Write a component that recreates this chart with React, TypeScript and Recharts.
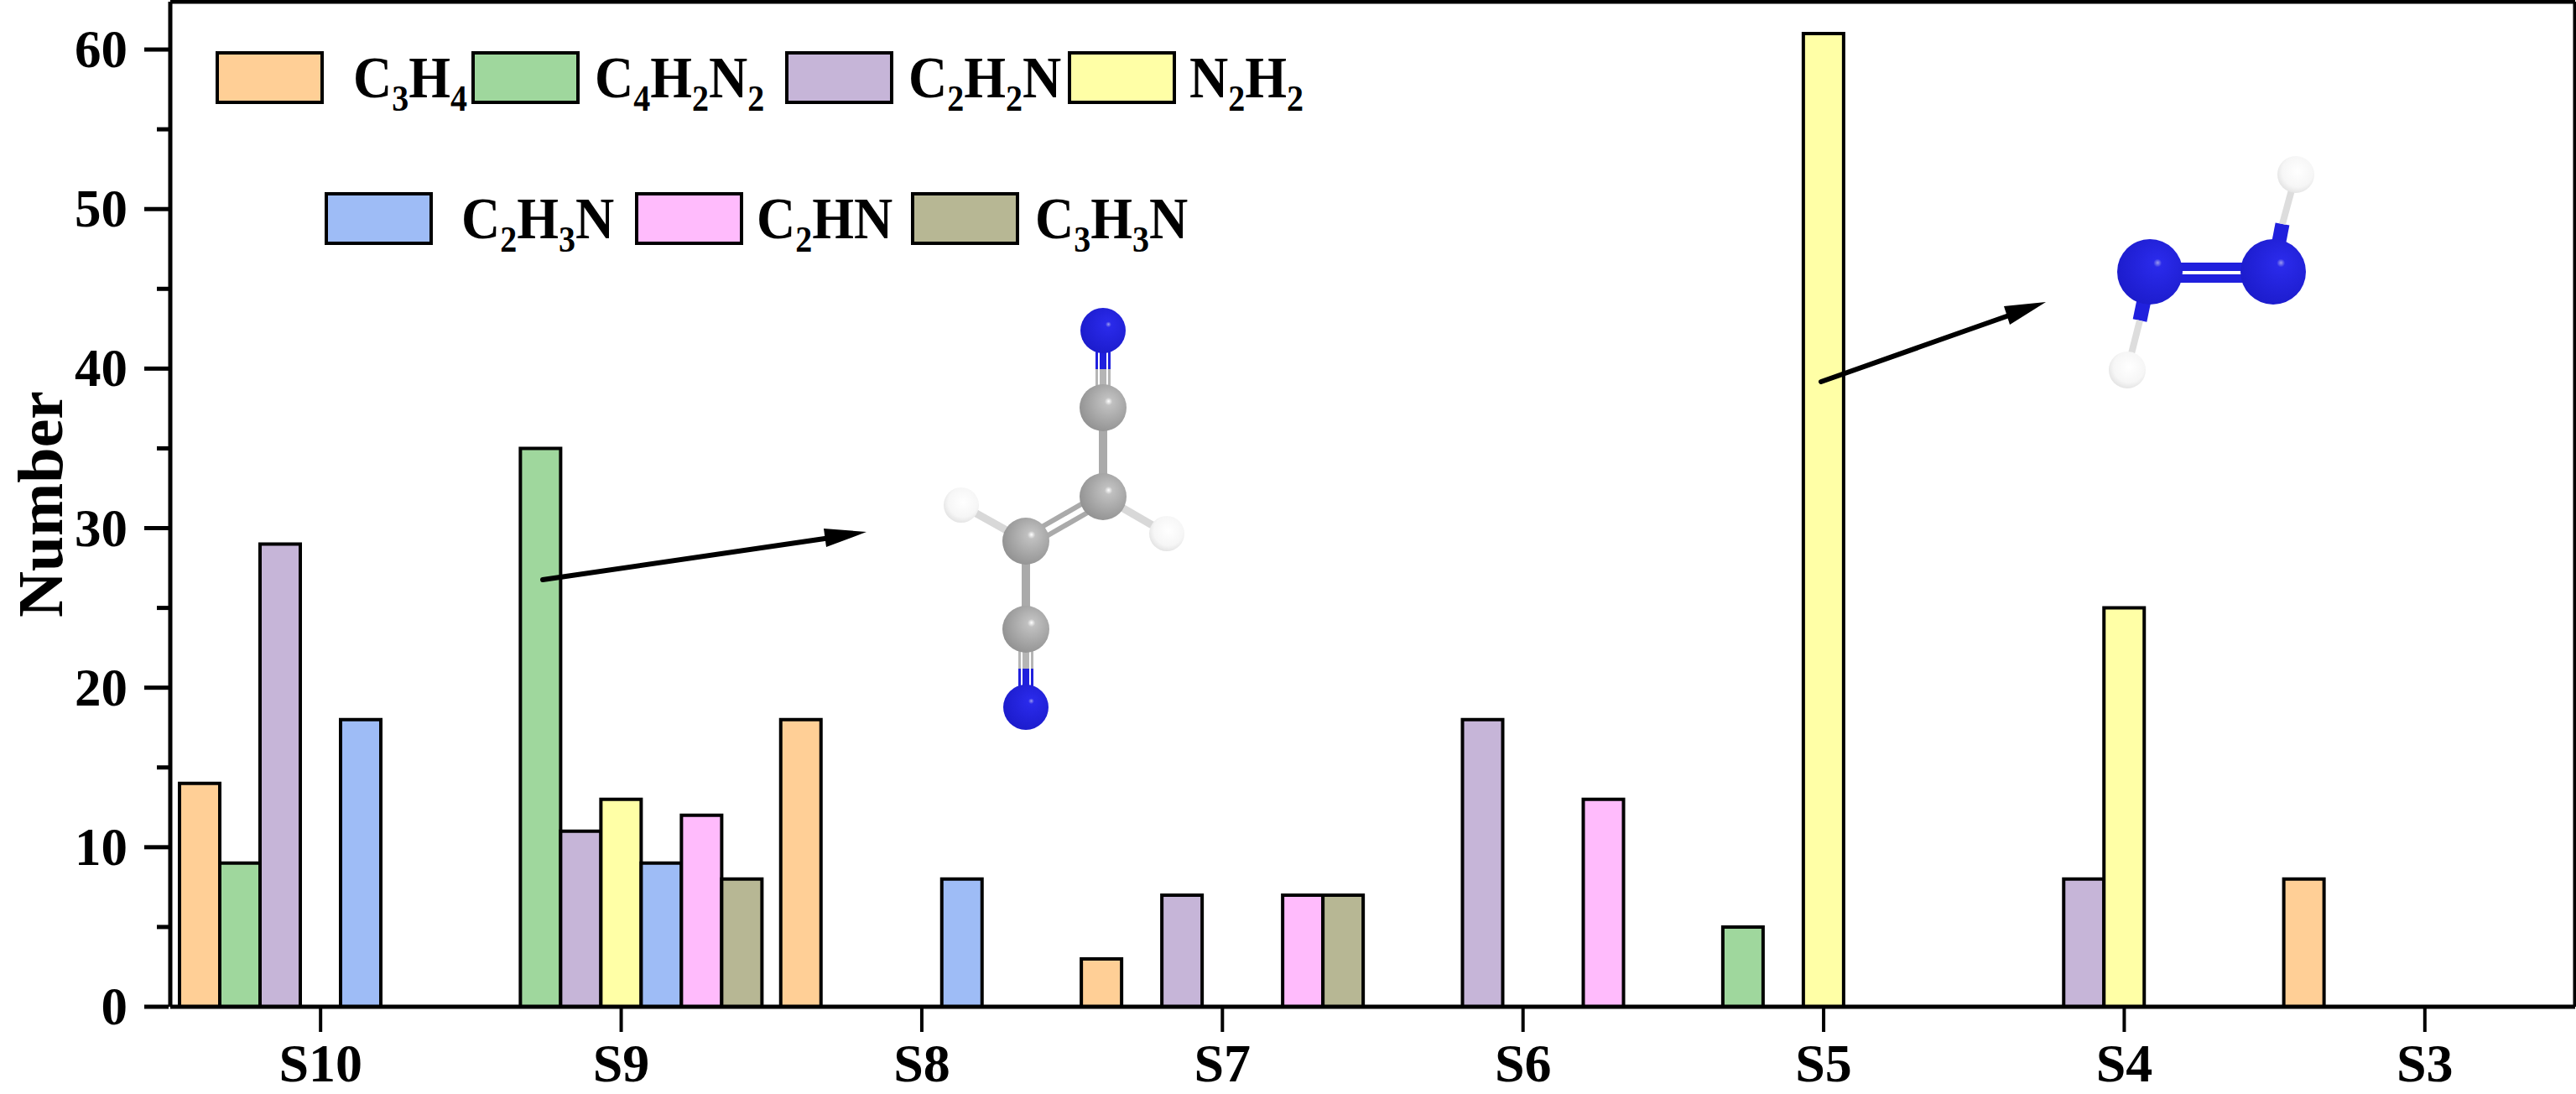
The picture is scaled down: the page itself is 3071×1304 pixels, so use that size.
import { BarChart, Bar, XAxis, YAxis, Legend } from 'recharts';

const categories = ['S10', 'S9', 'S8', 'S7', 'S6', 'S5', 'S4', 'S3'];

const c3h4 = [14, 0, 18, 3, 0, 0, 0, 8];
const c4h2n2 = [9, 35, 0, 0, 0, 5, 0, 0];
const c2h2n = [29, 11, 0, 7, 18, 0, 8, 0];
const n2h2 = [0, 13, 0, 0, 0, 61, 25, 0];
const c2h3n = [18, 9, 8, 0, 0, 0, 0, 0];
const c2hn = [0, 12, 0, 7, 13, 0, 0, 0];
const c3h3n = [0, 8, 0, 7, 0, 0, 0, 0];

const yTicks = [0, 5, 10, 15, 20, 25, 30, 35, 40, 45, 50, 55, 60];
const xMinorTicks = [0, 1, 2, 3, 4, 5, 6, 7, 8];

const chartData = categories.map((name, i) => ({
  name,
  C3H4: c3h4[i],
  C4H2N2: c4h2n2[i],
  C2H2N: c2h2n[i],
  N2H2: n2h2[i],
  C2H3N: c2h3n[i],
  C2HN: c2hn[i],
  C3H3N: c3h3n[i],
}));

const seriesColors: Record<string, string> = {
  C3H4: '#FFCF96',
  C4H2N2: '#9FD79D',
  C2H2N: '#C6B5D8',
  N2H2: '#FFFFA6',
  C2H3N: '#9EBCF6',
  C2HN: '#FFBBFC',
  C3H3N: '#B7B794',
};

// hand placed legend: swatch left, text left, row top
const legendLayout: Record<string, [number, number, number]> = {
  C3H4: [259, 421, 63],
  C4H2N2: [564, 709, 63],
  C2H2N: [938, 1083, 63],
  N2H2: [1275, 1418, 63],
  C2H3N: [389, 550, 231],
  C2HN: [759, 902, 231],
  C3H3N: [1088, 1234, 231],
};

const serif = '"Liberation Serif", "Times New Roman", serif';

// Formula text with the digits set as subscripts, a bit taller than wide like the original
const Formula = ({ x, y, text }: { x: number; y: number; text: string }) => {
  const parts = text.match(/[A-Z]+|\d+/g) || [];
  let shift = 0;
  return (
    <text
      transform={`translate(${x},${y}) scale(1,1.09)`}
      fontFamily={serif}
      fontWeight="bold"
      fontSize={64}
      fill="#000"
    >
      {parts.map((part, i) => {
        const isSub = /\d/.test(part);
        const target = isSub ? 15 : 0;
        const dy = target - shift;
        shift = target;
        return (
          <tspan key={i} dy={dy} fontSize={isSub ? 40 : 64}>
            {part}
          </tspan>
        );
      })}
    </text>
  );
};

const FormulaLegend = ({ payload }: any) => (
  <svg width={3071} height={320} style={{ display: 'block' }}>
    {(payload || []).map((item: any) => {
      const [sx, tx, top] = legendLayout[item.value];
      return (
        <g key={item.value}>
          <rect x={sx} y={top} width={125} height={59} fill={item.color} stroke="#000" strokeWidth={4} />
          <Formula x={tx} y={top + 53} text={item.value} />
        </g>
      );
    })}
  </svg>
);

const YTick = ({ x, y, payload }: any) => {
  const major = payload.value % 10 === 0;
  return (
    <g>
      <line x1={x} x2={x - (major ? 29 : 14)} y1={y} y2={y} stroke="#000" strokeWidth={5} />
      {major && (
        <text x={152} y={y + 21} textAnchor="end" fontFamily={serif} fontWeight="bold" fontSize={63}>
          {payload.value}
        </text>
      )}
    </g>
  );
};

const XTick = ({ x, payload }: any) => (
  <text x={x} y={1289} textAnchor="middle" fontFamily={serif} fontWeight="bold" fontSize={64}>
    {payload.value}
  </text>
);

// Molecule pictures and arrows laid over the plot
const Ball = ({ cx, cy, r, fill }: { cx: number; cy: number; r: number; fill: string }) => (
  <ellipse cx={cx} cy={cy} rx={r} ry={r} fill={`url(#${fill})`} />
);

const Bond = ({ d, color, w }: { d: number[]; color: string; w: number }) => (
  <line x1={d[0]} y1={d[1]} x2={d[2]} y2={d[3]} stroke={color} strokeWidth={w} />
);

const Overlay = () => (
  <svg
    width={3071}
    height={1304}
    style={{ position: 'absolute', left: 0, top: 0, pointerEvents: 'none' }}
  >
    <defs>
      <radialGradient id="blue" cx="0.6" cy="0.42" r="0.7" fx="0.62" fy="0.36">
        <stop offset="0%" stopColor="#9a9aee" />
        <stop offset="9%" stopColor="#2a2aea" />
        <stop offset="100%" stopColor="#1a1ac8" />
      </radialGradient>
      <radialGradient id="gray" cx="0.6" cy="0.42" r="0.7" fx="0.62" fy="0.36">
        <stop offset="0%" stopColor="#ffffff" />
        <stop offset="12%" stopColor="#c0c0c0" />
        <stop offset="100%" stopColor="#8c8c8c" />
      </radialGradient>
      <radialGradient id="white" cx="0.55" cy="0.42" r="0.7">
        <stop offset="0%" stopColor="#ffffff" />
        <stop offset="60%" stopColor="#f6f6f6" />
        <stop offset="100%" stopColor="#d8d8d8" />
      </radialGradient>
    </defs>

    <line x1={647} y1={691} x2={990} y2={641} stroke="#000" strokeWidth={6} strokeLinecap="round" />
    <polygon points="1033,634 982,630 985,652" fill="#000" />
    <line x1={2171} y1={455} x2={2395} y2={376} stroke="#000" strokeWidth={6} strokeLinecap="round" />
    <polygon points="2439,360 2389,365 2396,387" fill="#000" />

    {/* first molecule */}
    <Bond d={[1315, 394, 1315, 440]} color="#2020dd" w={18} />
    <Bond d={[1315, 440, 1315, 486]} color="#b5b5b5" w={18} />
    <Bond d={[1310, 394, 1310, 486]} color="#ffffff" w={2} />
    <Bond d={[1320, 394, 1320, 486]} color="#ffffff" w={2} />
    <Bond d={[1315, 486, 1315, 592]} color="#aaaaaa" w={10} />
    <Bond d={[1315, 586, 1223, 639]} color="#aaaaaa" w={6} />
    <Bond d={[1319, 598, 1227, 651]} color="#aaaaaa" w={6} />
    <Bond d={[1223, 645, 1223, 750]} color="#aaaaaa" w={10} />
    <Bond d={[1223, 750, 1223, 797]} color="#b5b5b5" w={18} />
    <Bond d={[1223, 797, 1223, 843]} color="#2020dd" w={18} />
    <Bond d={[1218, 750, 1218, 843]} color="#ffffff" w={2} />
    <Bond d={[1228, 750, 1228, 843]} color="#ffffff" w={2} />
    <Bond d={[1223, 645, 1146, 602]} color="#d8d8d8" w={9} />
    <Bond d={[1315, 592, 1391, 636]} color="#d8d8d8" w={9} />
    <Ball cx={1315} cy={394} r={27} fill="blue" />
    <Ball cx={1315} cy={486} r={28} fill="gray" />
    <Ball cx={1315} cy={592} r={28} fill="gray" />
    <Ball cx={1223} cy={645} r={28} fill="gray" />
    <Ball cx={1223} cy={750} r={28} fill="gray" />
    <Ball cx={1223} cy={843} r={27} fill="blue" />
    <Ball cx={1146} cy={602} r={21} fill="white" />
    <Ball cx={1391} cy={636} r={21} fill="white" />

    {/* second molecule */}
    <Bond d={[2563, 318, 2710, 318]} color="#2020dd" w={10} />
    <Bond d={[2563, 332, 2710, 332]} color="#2020dd" w={10} />
    <Bond d={[2710, 324, 2721, 267]} color="#2020dd" w={17} />
    <Bond d={[2721, 267, 2737, 208]} color="#dddddd" w={8} />
    <Bond d={[2563, 324, 2551, 382]} color="#2020dd" w={17} />
    <Bond d={[2551, 382, 2536, 441]} color="#dddddd" w={8} />
    <Ball cx={2563} cy={324} r={39} fill="blue" />
    <Ball cx={2710} cy={324} r={39} fill="blue" />
    <Ball cx={2737} cy={208} r={22} fill="white" />
    <Ball cx={2536} cy={441} r={22} fill="white" />
  </svg>
);

const axisStroke = { stroke: '#000', strokeWidth: 5 };

export default function App() {
  return (
    <div style={{ position: 'absolute', left: 0, top: 0, width: 3071, height: 1304, background: '#fff' }}>
      <BarChart
        width={3071}
        height={1304}
        data={chartData}
        margin={{ top: 1, right: 0, bottom: 102, left: 0 }}
        barSize={48}
        barGap={0}
        style={{ fontFamily: serif }}
      >
        <XAxis
          dataKey="name"
          height={1}
          axisLine={axisStroke}
          tickLine={{ stroke: '#000', strokeWidth: 4 }}
          tickSize={30}
          interval={0}
          tick={<XTick />}
        />
        <XAxis
          xAxisId="minor"
          type="number"
          domain={[0, 8]}
          ticks={xMinorTicks}
          height={1}
          axisLine={false}
          tickLine={{ stroke: '#000', strokeWidth: 4 }}
          tickSize={17}
          tick={false}
          interval={0}
        />
        <XAxis
          xAxisId="top"
          orientation="top"
          dataKey="name"
          height={1}
          axisLine={axisStroke}
          tickLine={false}
          tick={false}
        />
        <YAxis
          width={203}
          domain={[0, 63]}
          ticks={yTicks}
          interval={0}
          axisLine={axisStroke}
          tickLine={false}
          tickSize={0}
          tick={<YTick />}
          label={{
            value: 'Number',
            angle: -90,
            position: 'insideLeft',
            dx: 42,
            style: { fontFamily: serif, fontWeight: 'bold', fontSize: 76, fill: '#000', textAnchor: 'middle' },
          }}
        />
        <YAxis
          yAxisId="right"
          orientation="right"
          width={1}
          domain={[0, 63]}
          axisLine={axisStroke}
          tickLine={false}
          tick={false}
        />
        <Legend
          layout="horizontal"
          verticalAlign="middle"
          align="center"
          itemSorter={null}
          content={<FormulaLegend />}
          wrapperStyle={{ position: 'absolute', left: 0, top: 0, width: 3071, height: 320 }}
        />
        {Object.keys(seriesColors).map((key) => (
          <Bar
            key={key}
            dataKey={key}
            name={key}
            fill={seriesColors[key]}
            stroke="#000"
            strokeWidth={4}
            isAnimationActive={false}
          />
        ))}
      </BarChart>
      <Overlay />
    </div>
  );
}
